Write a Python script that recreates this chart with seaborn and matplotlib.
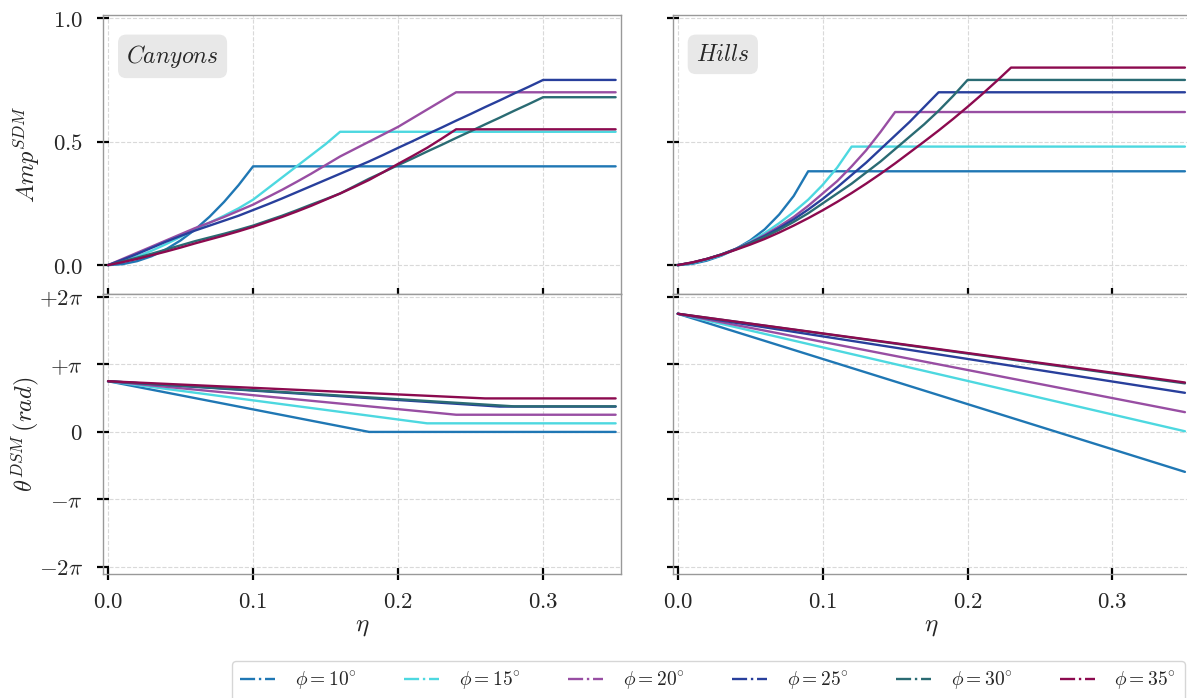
import numpy as np
import pandas as pd
import seaborn as sns
import matplotlib.pyplot as plt
from matplotlib.lines import Line2D

# angles and colours
phis = [10, 15, 20, 25, 30, 35]
colors = ['#1f77b4', '#4dd8e0', '#984ea3', '#283f9c', '#2a6b73', '#8c0a4f']

eta_grid = [0, 0.01, 0.02, 0.03, 0.04, 0.05, 0.06, 0.07, 0.08, 0.09, 0.10,
            0.11, 0.12, 0.13, 0.14, 0.15, 0.16, 0.17, 0.18, 0.19, 0.20,
            0.21, 0.22, 0.23, 0.24, 0.25, 0.26, 0.27, 0.28, 0.29, 0.30]
eta_max = 0.35

# Canyons amplitude, rising part; plateau after the last value
can_amp_10 = [0, .004, .016, .036, .064, .10, .144, .196, .256, .324, .40]
can_amp_15 = [0, .016, .035, .058, .085, .114, .145, .172, .20, .23, .265, .31, .355, .40, .445, .49, .54]
can_amp_20 = [0, .025, .05, .075, .10, .125, .15, .172, .195, .22, .245, .275, .305, .337, .37, .405,
              .44, .47, .50, .53, .56, .595, .63, .665, .70]
can_amp_25 = [0, .022, .045, .07, .095, .118, .14, .16, .18, .20, .223, .246, .27, .295, .32, .345,
              .37, .395, .42, .447, .475, .502, .53, .557, .585, .612, .64, .667, .695, .722, .75]
can_amp_30 = [0, .015, .03, .046, .063, .08, .097, .112, .127, .143, .16, .18, .20, .222, .245, .267,
              .29, .32, .35, .377, .405, .432, .46, .487, .515, .542, .57, .597, .625, .652, .68]
can_amp_35 = [0, .012, .025, .04, .055, .071, .088, .104, .12, .137, .155, .175, .195, .217, .24, .265,
              .29, .317, .345, .377, .41, .442, .475, .512, .55]

# Hills amplitude, rising part
hil_amp_10 = [0, .005, .018, .038, .065, .10, .145, .205, .28, .38]
hil_amp_15 = [0, .008, .022, .04, .065, .095, .13, .17, .215, .265, .325, .395, .48]
hil_amp_20 = [0, .01, .024, .043, .066, .092, .122, .157, .195, .24, .29, .34, .40, .465, .54, .62]
hil_amp_25 = [0, .01, .025, .043, .065, .09, .118, .15, .185, .225, .268, .315, .365, .415, .47, .525,
              .58, .64, .70]
hil_amp_30 = [0, .01, .025, .043, .064, .088, .114, .143, .175, .21, .25, .29, .33, .375, .42, .47,
              .52, .57, .625, .685, .75]
hil_amp_35 = [0, .011, .025, .042, .062, .083, .106, .132, .16, .19, .222, .256, .292, .33, .37, .412,
              .456, .50, .545, .592, .641, .692, .745, .80]

# Canyons phase: straight drop from a common start, then flat
can_phase_start = 2.36
can_phase_break = [0.18, 0.22, 0.24, 0.27, 0.28, 0.26]
can_phase_end = [0.0, 0.40, 0.80, 1.18, 1.19, 1.56]

# Hills phase: straight lines from a common start to the right edge
hil_phase_start = 5.50
hil_phase_end = [-1.86, 0.03, 0.92, 1.82, 2.26, 2.30]


def amp_df(series):
    rows = []
    for phi, vals in zip(phis, series):
        for e, v in zip(eta_grid, vals):
            rows.append((e, v, phi))
        rows.append((eta_max, vals[-1], phi))
    return pd.DataFrame(rows, columns=['eta', 'val', 'phi'])


df_can_amp = amp_df([can_amp_10, can_amp_15, can_amp_20, can_amp_25, can_amp_30, can_amp_35])
df_hil_amp = amp_df([hil_amp_10, hil_amp_15, hil_amp_20, hil_amp_25, hil_amp_30, hil_amp_35])

rows = []
for phi, b, v in zip(phis, can_phase_break, can_phase_end):
    rows += [(0, can_phase_start, phi), (b, v, phi), (eta_max, v, phi)]
df_can_ph = pd.DataFrame(rows, columns=['eta', 'val', 'phi'])

rows = []
for phi, v in zip(phis, hil_phase_end):
    rows += [(0, hil_phase_start, phi), (eta_max, v, phi)]
df_hil_ph = pd.DataFrame(rows, columns=['eta', 'val', 'phi'])

sns.set_style('ticks')
plt.rcParams['mathtext.fontset'] = 'cm'
plt.rcParams['font.family'] = ['DejaVu Serif']

fig = plt.figure(figsize=(11.87, 6.98), dpi=100)
W, H = 1187, 698
def box(x0, x1, ytop, ybot):
    return [x0 / W, 1 - ybot / H, (x1 - x0) / W, (ybot - ytop) / H]

ax_ca = fig.add_axes(box(103, 620.7, 15, 293.5))
ax_ha = fig.add_axes(box(672.7, 1190, 15, 293.5))
ax_cp = fig.add_axes(box(103, 620.7, 293.5, 574))
ax_hp = fig.add_axes(box(672.7, 1190, 293.5, 574))

palette = dict(zip(phis, colors))
for ax, d in [(ax_ca, df_can_amp), (ax_ha, df_hil_amp), (ax_cp, df_can_ph), (ax_hp, df_hil_ph)]:
    sns.lineplot(data=d, x='eta', y='val', hue='phi', palette=palette, ax=ax,
                 estimator=None, sort=False, legend=False, lw=1.7)
    ax.set_xlim(-0.0035, 0.3535)
    ax.set_xticks([0, 0.1, 0.2, 0.3])
    ax.set_xticklabels([r'$0.0$', r'$0.1$', r'$0.2$', r'$0.3$'])
    ax.grid(True, ls='--', color='#d9d9d9', lw=0.8)
    ax.tick_params(direction='inout', length=8, width=1.6, color='black', labelsize=16.5)
    ax.tick_params(axis='x', pad=8)
    ax.tick_params(axis='y', pad=10.5)
    for s in ax.spines.values():
        s.set_color('#999999')
        s.set_linewidth(1.0)
    ax.set_xlabel('')
    ax.set_ylabel('')

for ax in (ax_ca, ax_ha):
    ax.set_ylim(-0.115, 1.013)
    ax.set_yticks([0, 0.5, 1.0])
    ax.set_yticklabels([r'$0.0$', r'$0.5$', r'$1.0$'])
    ax.tick_params(labelbottom=False)

pi = np.pi
for ax in (ax_cp, ax_hp):
    ax.set_ylim(-2 * pi - 0.33, 2 * pi + 0.16)
    ax.set_yticks([-2 * pi, -pi, 0, pi, 2 * pi])
    ax.set_yticklabels([r'$-2\pi$', r'$-\pi$', r'$0$', r'$+\pi$', r'$+2\pi$'])
    ax.set_xlabel(r'$\eta$', fontsize=18, labelpad=2)

ax_ha.tick_params(labelleft=False)
ax_hp.tick_params(labelleft=False)

ax_ca.set_ylabel(r'$Amp^{SDM}$', fontsize=17.5)
ax_cp.set_ylabel(r'$\theta^{DSM}\,(rad)$', fontsize=17.5)
ax_ca.yaxis.set_label_coords(-0.118, 0.5)
ax_cp.yaxis.set_label_coords(-0.118, 0.5)

bb = dict(boxstyle='round,pad=0.35', fc='#e8e8e8', ec='none')
ax_ca.text(0.045, 0.9, r'$Canyons$', transform=ax_ca.transAxes, fontsize=17, va='top', bbox=bb)
ax_ha.text(0.045, 0.9, r'$Hills$', transform=ax_ha.transAxes, fontsize=17, va='top', bbox=bb)

handles = [Line2D([], [], color=c, ls='-.', lw=1.7) for c in colors]
labels = [r'$\phi = %d^{\circ}$' % p for p in phis]
fig.legend(handles, labels, loc='upper right', bbox_to_anchor=(1185 / W, 1 - 661 / H), ncol=6,
           fontsize=14, handlelength=1.8, handletextpad=1.0, columnspacing=2.45, frameon=True,
           fancybox=True, edgecolor='#cccccc', borderpad=0.45, borderaxespad=0)

fig.savefig('out.png', dpi=100)
